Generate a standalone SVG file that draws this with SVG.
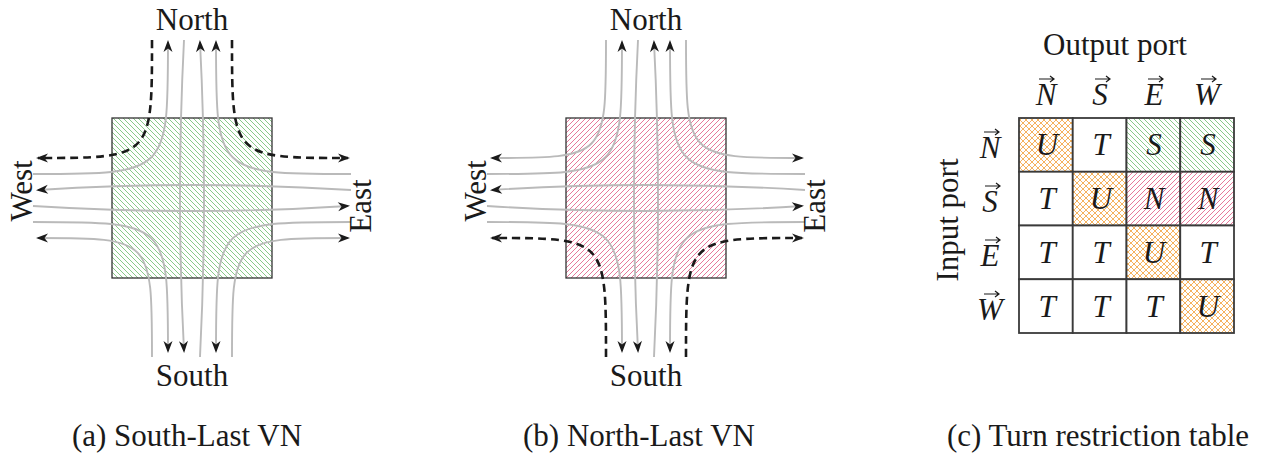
<svg xmlns="http://www.w3.org/2000/svg" width="1266" height="455" viewBox="0 0 1266 455">
  <style>
    .lbl { font-family: "Liberation Serif", "Times New Roman", serif; font-size: 31px; fill: #1a1a1a; }
    .math { font-family: "Liberation Serif", "Times New Roman", serif; font-size: 31px; font-style: italic; fill: #1a1a1a; }
    .mid { text-anchor: middle; }
    .flow { fill: none; stroke: #bababa; stroke-width: 1.9; }
    .turn { fill: none; stroke: #1a1a1a; stroke-width: 2.6; stroke-dasharray: 8 5; }
    .router { stroke: #333; stroke-width: 1.3; }
    .cell { stroke: #3a3a3a; stroke-width: 1.8; }
    .vec { fill: none; stroke: #1a1a1a; stroke-width: 1.2; }
  </style>
  <defs>
    <!-- diagonal hatch "\" -->
    <pattern id="hatchGreen" patternUnits="userSpaceOnUse" width="5" height="5">
      <rect width="5" height="5" fill="#fff"/>
      <path d="M0,0 L5,5 M-1,4 L1,6 M4,-1 L6,1" stroke="#7cc47c" stroke-width="0.9"/>
    </pattern>
    <!-- diagonal hatch "/" -->
    <pattern id="hatchPink" patternUnits="userSpaceOnUse" width="5" height="5">
      <rect width="5" height="5" fill="#fff"/>
      <path d="M0,5 L5,0 M-1,1 L1,-1 M4,6 L6,4" stroke="#e4698f" stroke-width="0.9"/>
    </pattern>
    <!-- crosshatch -->
    <pattern id="hatchOrange" patternUnits="userSpaceOnUse" width="6" height="6">
      <rect width="6" height="6" fill="#fff"/>
      <path d="M0,0 L6,6 M-1,5 L1,7 M5,-1 L7,1 M0,6 L6,0 M-1,1 L1,-1 M5,7 L7,5" stroke="#f5b25e" stroke-width="1"/>
    </pattern>
    <marker id="ah" markerUnits="userSpaceOnUse" viewBox="-13 -6 17 12" markerWidth="17" markerHeight="12" refX="0" refY="0" orient="auto">
      <path d="M2,0 L-10,-4.5 L-6.5,0 L-10,4.5 Z" fill="#1a1a1a"/>
    </marker>
  </defs>

  <rect x="0" y="0" width="1266" height="455" fill="#fff"/>

  <!-- (a) South-Last virtual network -->
  <g id="south-last">
    <rect id="router-a" class="router" x="112" y="118" width="160" height="160" fill="url(#hatchGreen)"/>
    <g id="connectors-a">
      <path class="flow" d="M33,174 C168,174 168,174 168,42" marker-end="url(#ah)"/>
      <path class="flow" d="M351,174 C216,174 216,174 216,42" marker-end="url(#ah)"/>
      <path class="flow" d="M184,40 Q176,198 184,351" marker-end="url(#ah)"/>
      <path class="flow" d="M200,357 Q208,198 200,42" marker-end="url(#ah)"/>
      <path class="flow" d="M351,190 Q192,180 38,190" marker-end="url(#ah)"/>
      <path class="flow" d="M33,206 Q192,216 348,206" marker-end="url(#ah)"/>
      <path class="flow" d="M33,222 C168,222 168,222 168,351" marker-end="url(#ah)"/>
      <path class="flow" d="M351,222 C216,222 216,222 216,351" marker-end="url(#ah)"/>
      <path class="flow" d="M152,357 C152,238 152,238 38,238" marker-end="url(#ah)"/>
      <path class="flow" d="M232,357 C232,238 232,238 348,238" marker-end="url(#ah)"/>
      <path class="turn" d="M152,40 C152,158 152,158 38,158" marker-end="url(#ah)"/>
      <path class="turn" d="M232,40 C232,158 232,158 348,158" marker-end="url(#ah)"/>
    </g>
    <text class="lbl mid" x="192" y="30">North</text>
    <text class="lbl mid" x="192" y="386">South</text>
    <text class="lbl mid" transform="translate(32,191) rotate(-90)">West</text>
    <text class="lbl mid" transform="translate(371,206) rotate(-90)">East</text>
  </g>

  <!-- (b) North-Last virtual network -->
  <g id="north-last" transform="translate(454,0)">
    <rect id="router-b" class="router" x="112" y="118" width="160" height="160" fill="url(#hatchPink)"/>
    <g id="connectors-b">
      <path class="flow" d="M33,174 C168,174 168,174 168,42" marker-end="url(#ah)"/>
      <path class="flow" d="M351,174 C216,174 216,174 216,42" marker-end="url(#ah)"/>
      <path class="flow" d="M184,40 Q176,198 184,351" marker-end="url(#ah)"/>
      <path class="flow" d="M200,357 Q208,198 200,42" marker-end="url(#ah)"/>
      <path class="flow" d="M351,190 Q192,180 38,190" marker-end="url(#ah)"/>
      <path class="flow" d="M33,206 Q192,216 348,206" marker-end="url(#ah)"/>
      <path class="flow" d="M33,222 C168,222 168,222 168,351" marker-end="url(#ah)"/>
      <path class="flow" d="M351,222 C216,222 216,222 216,351" marker-end="url(#ah)"/>
      <path class="flow" d="M152,40 C152,158 152,158 38,158" marker-end="url(#ah)"/>
      <path class="flow" d="M232,40 C232,158 232,158 348,158" marker-end="url(#ah)"/>
      <path class="turn" d="M152,357 C152,238 152,238 38,238" marker-end="url(#ah)"/>
      <path class="turn" d="M232,357 C232,238 232,238 348,238" marker-end="url(#ah)"/>
    </g>
    <text class="lbl mid" x="192" y="30">North</text>
    <text class="lbl mid" x="192" y="386">South</text>
    <text class="lbl mid" transform="translate(32,191) rotate(-90)">West</text>
    <text class="lbl mid" transform="translate(371,206) rotate(-90)">East</text>
  </g>

  <!-- (c) turn restriction table -->
  <g id="turn-table">
    <text class="lbl mid" x="1115" y="55">Output port</text>
    <text class="lbl mid" transform="translate(958,220) rotate(-90)">Input port</text>

    <!-- column headers -->
    <g id="col-headers">
      <text class="math mid" x="1046" y="105">N</text>
      <path class="vec" d="M1039,79 H1054 M1050,76 L1054,79 L1050,82"/>
      <text class="math mid" x="1100" y="105">S</text>
      <path class="vec" d="M1095,79 H1110 M1106,76 L1110,79 L1106,82"/>
      <text class="math mid" x="1154" y="105">E</text>
      <path class="vec" d="M1148,79 H1163 M1159,76 L1163,79 L1159,82"/>
      <text class="math mid" x="1207" y="105">W</text>
      <path class="vec" d="M1201,79 H1216 M1212,76 L1216,79 L1212,82"/>
    </g>

    <!-- row headers -->
    <g id="row-headers">
      <text class="math mid" x="990" y="158">N</text>
      <path class="vec" d="M984,132 H999 M995,129 L999,132 L995,135"/>
      <text class="math mid" x="990" y="212">S</text>
      <path class="vec" d="M985,186 H1000 M996,183 L1000,186 L996,189"/>
      <text class="math mid" x="990" y="266">E</text>
      <path class="vec" d="M985,240 H1000 M996,237 L1000,240 L996,243"/>
      <text class="math mid" x="990" y="320">W</text>
      <path class="vec" d="M984,294 H999 M995,291 L999,294 L995,297"/>
    </g>

    <!-- cells -->
    <g id="cells">
      <rect class="cell" x="1019" y="118" width="53.75" height="53.75" fill="url(#hatchOrange)"/>
      <rect class="cell" x="1072.75" y="118" width="53.75" height="53.75" fill="#fff"/>
      <rect class="cell" x="1126.5" y="118" width="53.75" height="53.75" fill="url(#hatchGreen)"/>
      <rect class="cell" x="1180.25" y="118" width="53.75" height="53.75" fill="url(#hatchGreen)"/>

      <rect class="cell" x="1019" y="171.75" width="53.75" height="53.75" fill="#fff"/>
      <rect class="cell" x="1072.75" y="171.75" width="53.75" height="53.75" fill="url(#hatchOrange)"/>
      <rect class="cell" x="1126.5" y="171.75" width="53.75" height="53.75" fill="url(#hatchPink)"/>
      <rect class="cell" x="1180.25" y="171.75" width="53.75" height="53.75" fill="url(#hatchPink)"/>

      <rect class="cell" x="1019" y="225.5" width="53.75" height="53.75" fill="#fff"/>
      <rect class="cell" x="1072.75" y="225.5" width="53.75" height="53.75" fill="#fff"/>
      <rect class="cell" x="1126.5" y="225.5" width="53.75" height="53.75" fill="url(#hatchOrange)"/>
      <rect class="cell" x="1180.25" y="225.5" width="53.75" height="53.75" fill="#fff"/>

      <rect class="cell" x="1019" y="279.25" width="53.75" height="53.75" fill="#fff"/>
      <rect class="cell" x="1072.75" y="279.25" width="53.75" height="53.75" fill="#fff"/>
      <rect class="cell" x="1126.5" y="279.25" width="53.75" height="53.75" fill="#fff"/>
      <rect class="cell" x="1180.25" y="279.25" width="53.75" height="53.75" fill="url(#hatchOrange)"/>
    </g>

    <g id="cell-labels">
      <text class="math mid" x="1047" y="155">U</text>
      <text class="math mid" x="1101" y="155">T</text>
      <text class="math mid" x="1154" y="155">S</text>
      <text class="math mid" x="1208" y="155">S</text>

      <text class="math mid" x="1047" y="209">T</text>
      <text class="math mid" x="1101" y="209">U</text>
      <text class="math mid" x="1154" y="209">N</text>
      <text class="math mid" x="1208" y="209">N</text>

      <text class="math mid" x="1047" y="263">T</text>
      <text class="math mid" x="1101" y="263">T</text>
      <text class="math mid" x="1154" y="263">U</text>
      <text class="math mid" x="1208" y="263">T</text>

      <text class="math mid" x="1047" y="317">T</text>
      <text class="math mid" x="1101" y="317">T</text>
      <text class="math mid" x="1154" y="317">T</text>
      <text class="math mid" x="1208" y="317">U</text>
    </g>
  </g>

  <!-- captions -->
  <text class="lbl mid" x="187" y="446">(a) South-Last VN</text>
  <text class="lbl mid" x="639" y="446">(b) North-Last VN</text>
  <text class="lbl mid" x="1098" y="446">(c) Turn restriction table</text>
</svg>
